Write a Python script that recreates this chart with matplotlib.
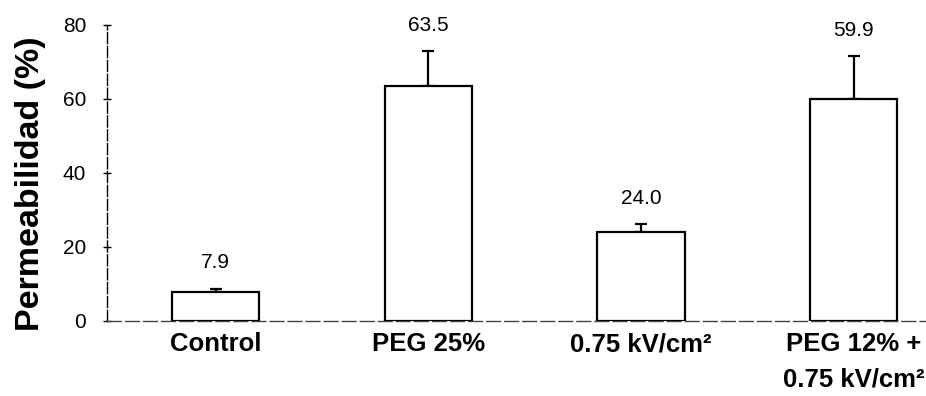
import numpy as np
import matplotlib
matplotlib.use("Agg")
import matplotlib.pyplot as plt

plt.rcParams['font.family'] = ['Liberation Sans', 'DejaVu Sans']

# data
categories = ["Control", "PEG 25%", "0.75 kV/cm²", "PEG 12% +\n0.75 kV/cm²"]
values = [7.9, 63.5, 24.0, 59.9]
errors = [0.8, 9.4, 2.1, 11.6]
value_labels = ["7.9", "63.5", "24.0", "59.9"]
yticks = [0, 20, 40, 60, 80]

fig = plt.figure(figsize=(9.26, 3.96), dpi=100)
ax = fig.add_axes([0.1156, 0.1894, 0.8844, 0.7476])

x = np.arange(len(categories))
ax.bar(x, values, width=0.41, color="white", edgecolor="black", linewidth=1.6, zorder=3)
ax.errorbar(x, values, yerr=[np.zeros(len(errors)), errors], fmt="none",
            ecolor="black", elinewidth=1.6, capsize=4, capthick=1.6, zorder=2)

# value labels above the error bars
for xi, v, e, lab in zip(x, values, errors, value_labels):
    ax.text(xi, v + e + 7, lab, ha="center", va="center", fontsize=15, clip_on=False)

ax.set_xlim(-0.51, 3.34)
ax.set_ylim(0, 80)
ax.set_yticks(yticks)
ax.set_xticks(x)
ax.set_xticklabels(categories, fontsize=18.5, fontweight="bold", linespacing=1.6)
ax.tick_params(axis="x", length=0, pad=8)
ax.tick_params(axis="y", direction="inout", length=6, width=1, labelsize=15, pad=12)

ax.set_ylabel("Permeabilidad (%)", fontsize=24.5, fontweight="bold", labelpad=12)
ax.yaxis.label.set_y(0.463)

for side in ["top", "right"]:
    ax.spines[side].set_visible(False)
ax.spines["left"].set_linestyle((0, (8, 2)))
ax.spines["left"].set_linewidth(1.0)
ax.spines["bottom"].set_linestyle((0, (10, 3)))
ax.spines["bottom"].set_linewidth(1.0)
ax.spines["bottom"].set_color("#444444")

fig.savefig("out.png", dpi=100)
